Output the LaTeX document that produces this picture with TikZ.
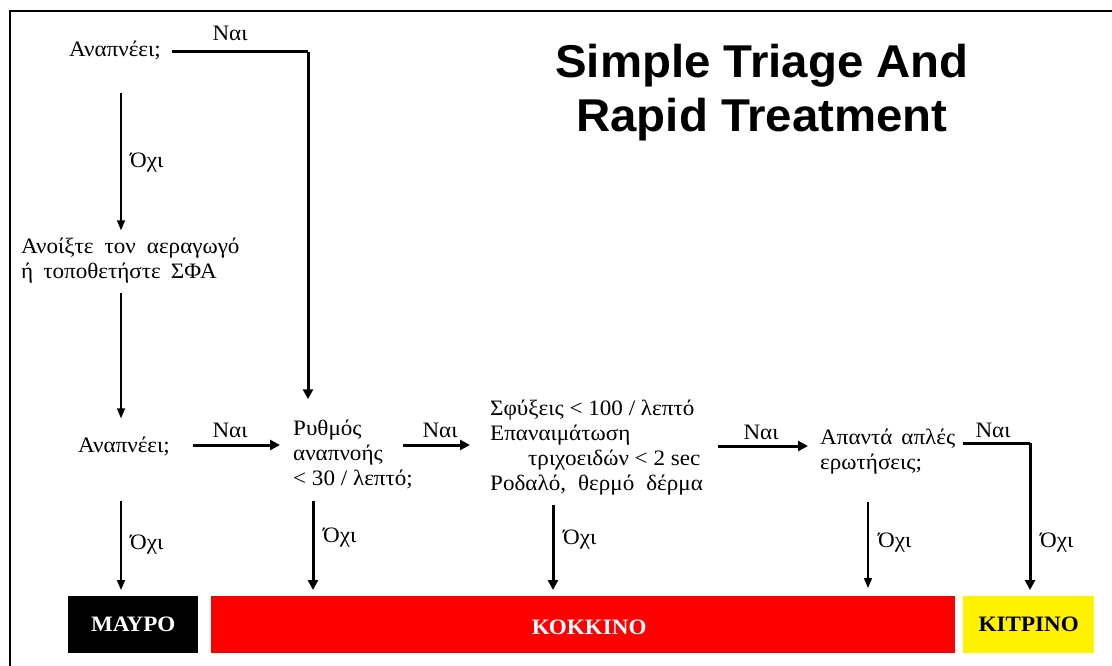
\documentclass[tikz,border=0pt]{standalone}
\usepackage{fontspec}
\setmainfont{Liberation Serif}[FakeStretch=1.05]
\newfontfamily\headfont{Liberation Sans}[FakeStretch=1.03]
\usetikzlibrary{arrows.meta}
\begin{document}
\begin{tikzpicture}[x=1pt,y=-1pt,
  txt/.style={inner sep=0pt,font=\fontsize{22}{25}\selectfont},
  boxlbl/.style={inner sep=0pt,font=\bfseries\fontsize{22}{25}\selectfont},
  title/.style={inner sep=0pt,font=\headfont\bfseries\fontsize{46}{54}\selectfont},
  thinarr/.style={line width=1.5pt,-{Triangle[length=10pt,width=8pt]}},
  thickarr/.style={line width=3pt,-{Triangle[length=10pt,width=10pt]}},
  thickline/.style={line width=3pt},
  catbox/.style={minimum height=57pt,inner sep=0pt,anchor=north west}
]
\useasboundingbox (0,0) rectangle (1112,666);
\fill[white] (0,0) rectangle (1112,666);
% frame
\draw[line width=2pt] (1112,11) -- (10,11) -- (10,666);

% title
\node[title,anchor=base] (t1) at (762,78) {Simple Triage And};
\node[title,anchor=base] (t2) at (762,132) {Rapid Treatment};

% decision nodes (multi-line nodes are placed by the baseline of their last line)
\node[txt,anchor=base] (a1) at (115,57) {Αναπνέει;};
\node[txt,anchor=base west,align=left] (air) at (21,278)
  {Ανοίξτε\hspace{11pt}τον\hspace{11pt}αεραγωγό\\ή\hspace{10pt}τοποθετήστε\hspace{10pt}ΣΦΑ};
\node[txt,anchor=base] (a2) at (124,452) {Αναπνέει;};
\node[txt,anchor=base west,align=left] (resp) at (293,485)
  {Ρυθμός\\αναπνοής\\< 30 / λεπτό;};
\node[txt,anchor=base west,align=left] (perf) at (490,490)
  {Σφύξεις < 100 / λεπτό\\Επαναιμάτωση\\\hspace*{38pt}τριχοειδών < 2 sec\\Ροδαλό,\hspace{12pt}θερμό\hspace{12pt}δέρμα};
\node[txt,anchor=base west,align=left] (ment) at (820,469)
  {Απαντά\hspace{9pt}απλές\\ερωτήσεις;};

% category boxes
\node[catbox,fill=black,minimum width=130pt] (black) at (68,596) {};
\node[boxlbl,text=white] at (black.center) {ΜΑΥΡΟ};
\node[catbox,fill=red,minimum width=744pt] (red) at (211,596) {};
\node[boxlbl,text=white] at ([xshift=6pt,yshift=-3pt]red.center) {ΚΟΚΚΙΝΟ};
\node[catbox,fill=yellow,minimum width=131pt] (yellow) at (963,596) {};
\node[boxlbl,text=black] at (yellow.center) {ΚΙΤΡΙΝΟ};

% connector end points
\coordinate (a1yes) at (172,52);
\coordinate (c1) at (308,52);
\coordinate (a1no) at (121,93);
\coordinate (airout) at (121,293);
\coordinate (a2yes) at (193,445);
\coordinate (respyes) at (403,445);
\coordinate (perfyes) at (718,446);
\coordinate (mentyes) at (963,443);
\coordinate (c2) at (1030,443);

% breathing: yes
\draw[thickline] (a1yes) -- (c1);
\draw[thickarr] (c1) -- ([yshift=20pt]c1 |- resp.north);
\node[txt,anchor=base] at (230,41) {Ναι};

% breathing: no
\draw[thinarr] (a1no) -- ([yshift=7pt]a1no |- air.north);
\node[txt,anchor=west] at (130,163) {Όχι};
\draw[thinarr] (airout) -- ([yshift=18pt]airout |- a2.north);

% second breathing check
\draw[thickarr] (a2yes) -- ([xshift=-13pt]a2yes -| resp.west);
\node[txt,anchor=base] at (230,437) {Ναι};
\draw[thinarr] ([yshift=-45pt]a2.south -| a1no) -- ([yshift=6pt]a1no |- black.north);
\node[txt,anchor=west] at (130,545) {Όχι};

% respiratory rate
\draw[thickarr] (respyes) -- ([xshift=-20pt]respyes -| perf.west);
\node[txt,anchor=base] at (440,437) {Ναι};
\draw[thickarr] ([yshift=-12pt]resp.south -| 313,0) -- ([yshift=6pt]red.north -| 313,0);
\node[txt,anchor=west] at (323,538) {Όχι};

% perfusion
\draw[thickarr] (perfyes) -- ([xshift=-12pt]perfyes -| ment.west);
\node[txt,anchor=base] at (761,439) {Ναι};
\draw[thickarr] ([yshift=-10pt]perf.south -| 553,0) -- ([yshift=6pt]red.north -| 553,0);
\node[txt,anchor=west] at (563,540) {Όχι};

% mental status
\draw[thickline] (mentyes) -- (c2);
\draw[thickarr] (c2) -- ([yshift=6pt]yellow.north -| c2);
\node[txt,anchor=base] at (993,437) {Ναι};
\node[txt,anchor=west] at (1040,543) {Όχι};
\draw[thinarr] ([yshift=-28pt]ment.south -| 868,0) -- ([yshift=8pt]red.north -| 868,0);
\node[txt,anchor=west] at (878,543) {Όχι};
\end{tikzpicture}
\end{document}
